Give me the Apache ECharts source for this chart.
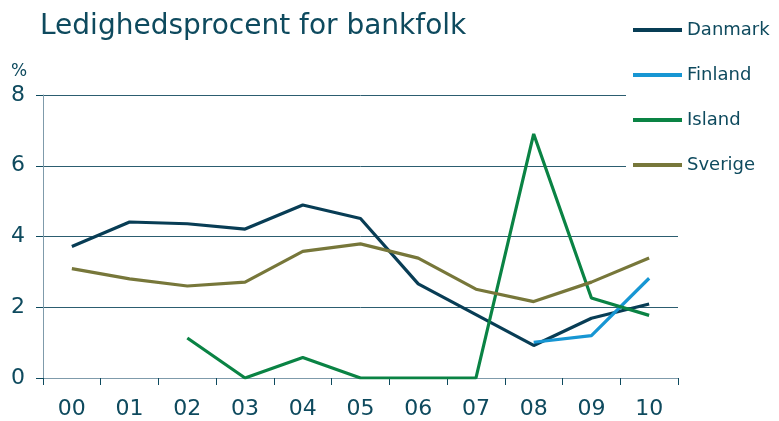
<!DOCTYPE html>
<html>
<head>
<meta charset="utf-8">
<script src="https://cdn.jsdelivr.net/npm/echarts@6/dist/echarts.min.js"></script>
<style>
  html, body { margin: 0; padding: 0; background: #fff; }
  #chart { width: 779px; height: 421px; }
</style>
</head>
<body>
<div id="chart"></div>
<script>
const years = ['00', '01', '02', '03', '04', '05', '06', '07', '08', '09', '10'];
const danmark = [3.72, 4.41, 4.36, 4.21, 4.89, 4.51, 2.66, 1.79, 0.92, 1.69, 2.09];
const finland = [null, null, null, null, null, null, null, null, 1.01, 1.2, 2.82];
const island = [null, null, 1.13, 0, 0.58, 0, 0, 0, 6.9, 2.26, 1.77];
const sverige = [3.09, 2.8, 2.6, 2.71, 3.58, 3.79, 3.39, 2.51, 2.16, 2.71, 3.39];

const textColor = '#0e4a5e';
const font = 'DejaVu Sans';

const line = (name, data, color) => ({
  name,
  type: 'line',
  data,
  symbol: 'none',
  connectNulls: false,
  lineStyle: { width: 3.2, color },
  itemStyle: { color },
});

const chart = echarts.init(document.getElementById('chart'), undefined, { renderer: 'canvas' });
chart.setOption({
  animation: false,
  title: {
    text: 'Ledighedsprocent for bankfolk',
    left: 40,
    top: 13,
    padding: 0,
    textStyle: { color: textColor, fontFamily: font, fontSize: 28, fontWeight: 'normal' },
  },
  graphic: [{
    type: 'text',
    left: 11,
    top: 63,
    style: { text: '%', fill: textColor, font: '17px "DejaVu Sans"' },
  }],
  legend: {
    orient: 'vertical',
    left: 626,
    top: 10,
    padding: [10, 10, 10, 7],
    backgroundColor: '#fff',
    itemWidth: 49,
    itemHeight: 4,
    itemGap: 25,
    icon: 'rect',
    textStyle: { color: textColor, fontFamily: font, fontSize: 18, lineHeight: 20 },
    data: ['Danmark', 'Finland', 'Island', 'Sverige'],
  },
  grid: { left: 43, right: 101, top: 95, bottom: 43 },
  xAxis: {
    type: 'category',
    data: years,
    boundaryGap: true,
    axisLine: { lineStyle: { color: '#7f9bab', width: 1 } },
    axisTick: { show: true, length: 7, lineStyle: { color: '#0e4a5e' } },
    axisLabel: { color: textColor, fontFamily: font, fontSize: 22, margin: 20 },
    splitLine: { show: false },
  },
  yAxis: {
    type: 'value',
    min: 0,
    max: 8,
    interval: 2,
    axisLine: { show: true, lineStyle: { color: '#7f9bab', width: 1 } },
    axisTick: { show: true, length: 7, lineStyle: { color: '#0e4a5e' } },
    axisLabel: { color: textColor, fontFamily: font, fontSize: 22, margin: 18 },
    splitLine: { lineStyle: { color: '#2c5d70', width: 1 } },
  },
  series: [
    line('Danmark', danmark, '#083d55'),
    line('Finland', finland, '#1796d3'),
    line('Island', island, '#0a8344'),
    line('Sverige', sverige, '#77773a'),
  ],
});
</script>
</body>
</html>
